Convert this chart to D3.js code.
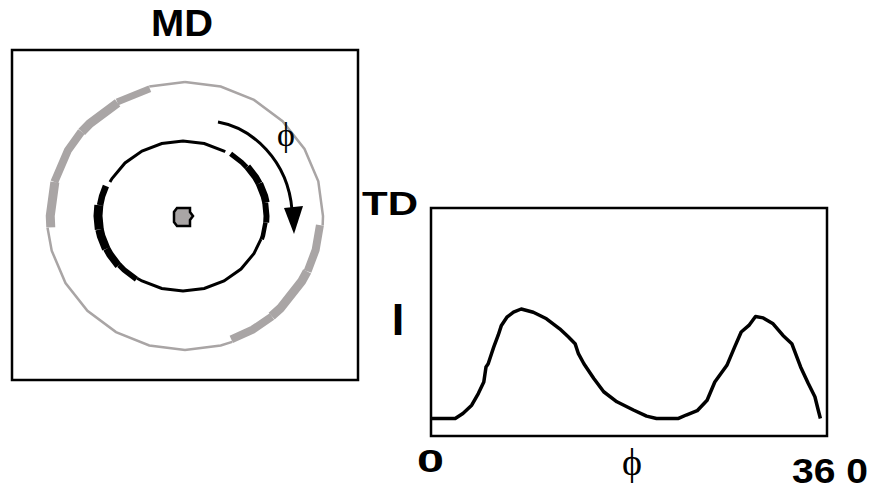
<!DOCTYPE html>
<html>
<head>
<meta charset="utf-8">
<script src="https://cdn.jsdelivr.net/npm/d3@7"></script>
<style>
  body { margin: 0; background: #fff; }
  svg { display: block; }
  .lbl { font-family: "Liberation Sans", Arial, sans-serif; font-weight: bold; fill: #000; }
  .phi { font-family: "Liberation Serif", "Times New Roman", serif; fill: #000; }
</style>
</head>
<body>
<svg id="chart"></svg>
<script>
// intensity profile I(phi)
const phiValues = [0, 11, 22, 29, 37, 43, 48, 50, 52, 55, 57, 61, 64, 69, 75, 82, 93, 105, 117, 125, 131, 134, 139, 148, 157, 169, 184, 196, 205, 214, 225, 232, 242, 251, 258, 269, 276, 282, 289, 295, 302, 311, 320, 328, 336, 343, 349, 352, 354];
const intensity = [7.7, 7.7, 7.7, 9.9, 13.5, 18.6, 23.7, 30.3, 31.7, 36.1, 39, 44.1, 48.5, 52.1, 54.3, 55.7, 54.3, 51.4, 47, 43.4, 40.5, 36.1, 31.7, 25.2, 19.4, 15, 11.4, 8.7, 7.7, 7.7, 7.7, 9.2, 11.1, 15.7, 23.7, 31, 39, 45.6, 48.5, 52.4, 51.8, 49.2, 44.1, 40.5, 30.3, 23, 17.2, 11.4, 7.7];

// ring segments: [start angle, end angle, width] (degrees clockwise from top)
const innerRing = [[297, 391, 3], [35, 50, 5], [50, 65, 7], [65, 80, 7.5], [80, 95, 6], [95, 108, 4.5], [108, 214, 3],
                   [214, 230, 5.5], [230, 245, 7.5], [245, 260, 8.5], [260, 278, 9], [278, 293, 6.5]];
const outerRing = [[0, 94, 2.5], [94, 115, 8], [115, 140, 9], [140, 160, 8], [160, 265, 2.5],
                   [265, 285, 9], [285, 310, 8], [310, 330, 9], [330, 345, 7], [345, 360, 2.5]];

const xTicks = ["0", "36 0"];

const W = 875, H = 491;
const svg = d3.select("#chart").attr("width", W).attr("height", H);

// ---------- left panel ----------
svg.append("rect").attr("x", 12).attr("y", 50).attr("width", 346).attr("height", 330)
  .attr("fill", "none").attr("stroke", "#000").attr("stroke-width", 2.5);

svg.append("text").attr("class", "lbl").attr("x", 151).attr("y", 36)
  .attr("font-size", 36).attr("textLength", 62).attr("lengthAdjust", "spacingAndGlyphs").text("MD");

const rad = d3.scaleLinear().domain([0, 360]).range([0, 2 * Math.PI]);

function ringPath(ring, a0, a1) {
  const pts = [a0];
  for (let a = Math.ceil(a0 / 15) * 15; a < a1; a += 15) if (a > a0) pts.push(a);
  pts.push(a1);
  return d3.line()(pts.map(a => [ring.cx + ring.rx * Math.sin(rad(a)), ring.cy - ring.ry * Math.cos(rad(a))]));
}

function drawRing(segs, geo, color, base, dir) {
  svg.append("g").selectAll("path").data(segs).join("path")
    .attr("d", d => {
      const off = dir * (d[2] - base) / 2;
      return ringPath({cx: geo.cx, cy: geo.cy, rx: geo.rx + off, ry: geo.ry + off}, d[0], d[1]);
    })
    .attr("fill", "none").attr("stroke", color).attr("stroke-width", d => d[2])
    .attr("stroke-linejoin", "miter");
}

drawRing(outerRing, {cx: 185, cy: 216, rx: 138, ry: 134}, "#a9a5a5", 2.5, -1);
drawRing(innerRing, {cx: 183, cy: 216, rx: 82, ry: 75}, "#000", 3, 1);

// centre spot
svg.append("path")
  .attr("d", "M177,208 L190,208 L190,212 L193,216 L190,220 L190,226 L177,226 L174,222 L174,212 Z")
  .attr("fill", "#a9a5a5").attr("stroke", "#000").attr("stroke-width", 2.5);

// rotation arrow
svg.append("path").attr("d", "M218,122 C252,128 288,160 292,210")
  .attr("fill", "none").attr("stroke", "#000").attr("stroke-width", 3);
svg.append("path").attr("d", "M284,208 L303,206 L294,234 Z").attr("fill", "#000");
svg.append("text").attr("class", "phi").attr("x", 286).attr("y", 146)
  .attr("text-anchor", "middle").attr("font-size", 34).text("ϕ");

// ---------- right panel ----------
const x = d3.scaleLinear().domain([0, 360]).range([431, 827]);
const y = d3.scaleLinear().domain([0, 100]).range([436, 208]);

svg.append("rect").attr("x", x(0)).attr("y", y(100)).attr("width", x(360) - x(0)).attr("height", y(0) - y(100))
  .attr("fill", "none").attr("stroke", "#000").attr("stroke-width", 2.5);

svg.append("path").datum(phiValues.map((p, i) => [p, intensity[i]]))
  .attr("d", d3.line().x(d => x(d[0])).y(d => y(d[1])))
  .attr("fill", "none").attr("stroke", "#000").attr("stroke-width", 3.5).attr("stroke-linejoin", "round");

svg.append("text").attr("class", "lbl").attr("x", 362).attr("y", 215)
  .attr("font-size", 33).attr("textLength", 56).attr("lengthAdjust", "spacingAndGlyphs").text("TD");
svg.append("text").attr("class", "lbl").attr("x", 398).attr("y", 335)
  .attr("text-anchor", "middle").attr("font-size", 45).text("I");

svg.append("text").attr("class", "lbl").attr("x", 417).attr("y", 472)
  .attr("font-size", 32).attr("textLength", 27).attr("lengthAdjust", "spacingAndGlyphs").text(xTicks[0]);
svg.append("text").attr("class", "lbl").attr("x", 792).attr("y", 483)
  .attr("font-size", 35).attr("textLength", 76).attr("lengthAdjust", "spacingAndGlyphs").text(xTicks[1]);
svg.append("text").attr("class", "phi").attr("x", 632).attr("y", 475)
  .attr("text-anchor", "middle").attr("font-size", 38).text("ϕ");
</script>
</body>
</html>
